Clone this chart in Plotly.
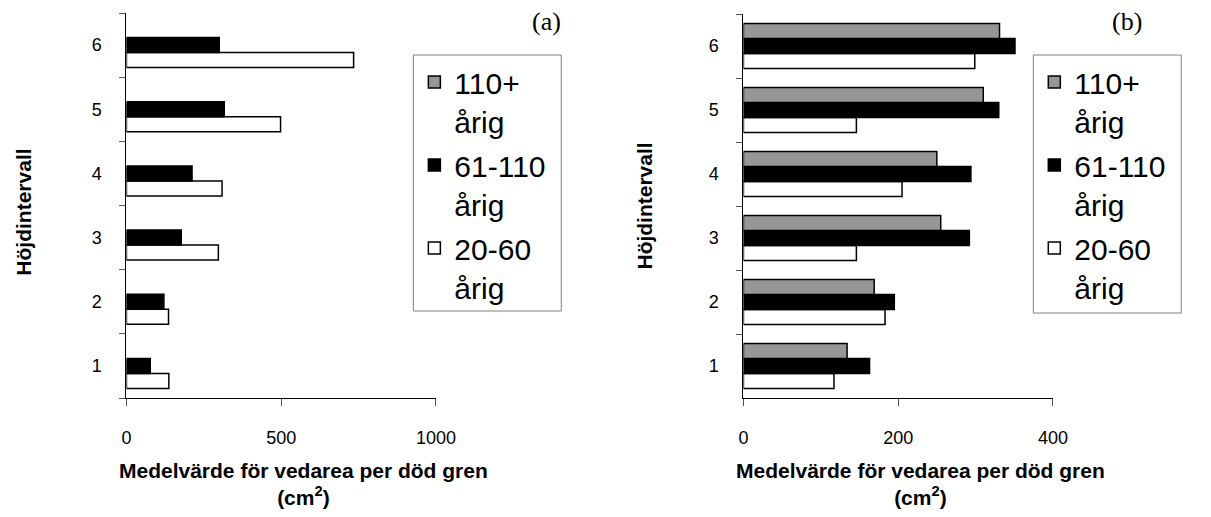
import plotly.graph_objects as go

categories = ["1", "2", "3", "4", "5", "6"]
series_names = ["110+<br>årig", "61-110<br>årig", "20-60<br>årig"]

# Panel (a)
a_110 = [None, None, None, None, None, None]
a_61 = [77, 121, 177, 212, 316, 300]
a_20 = [137, 136, 297, 309, 498, 734]

# Panel (b)
b_110 = [134, 169, 255, 250, 310, 331]
b_61 = [163, 195, 292, 294, 330, 351]
b_20 = [117, 183, 146, 205, 146, 299]

x_ticks_a = [0, 500, 1000]
x_ticks_b = [0, 200, 400]

W, H = 1211, 517
FONT = "Liberation Sans, Arial, sans-serif"
colors = {"110": "#969696", "61": "#000000", "20": "#ffffff"}
ranks = {"110": 1, "61": 2, "20": 3}

fig = go.Figure()

def add_panel(vals20, vals61, vals110, xa, ya, leg):
    for name, vals, key in [(series_names[2], vals20, "20"),
                            (series_names[1], vals61, "61"),
                            (series_names[0], vals110, "110")]:
        fig.add_trace(go.Bar(
            y=categories, x=vals, orientation="h", name=name,
            marker=dict(color=colors[key], line=dict(color="#000000", width=1.5)),
            xaxis=xa, yaxis=ya, legend=leg, legendgroup=leg + key,
            legendrank=ranks[key],
        ))

add_panel(a_20, a_61, a_110, "x", "y", "legend")
add_panel(b_20, b_61, b_110, "x2", "y2", "legend2")

def px_x(p):
    return p / W

def px_y(p):
    return 1 - p / H

axis_common = dict(showgrid=False, zeroline=False, showline=True, linecolor="#000000",
                   linewidth=1, ticks="outside", tickcolor="#555555", tickwidth=1,
                   tickfont=dict(family=FONT, size=18, color="#000000"))

legend_common = dict(xanchor="left", yanchor="top",
                     borderwidth=0, bgcolor="rgba(0,0,0,0)",
                     traceorder="grouped", valign="top",
                     font=dict(family=FONT, size=30, color="#000000"),
                     tracegroupgap=2)

fig.update_layout(
    width=W, height=H,
    margin=dict(l=0, r=0, t=0, b=0),
    paper_bgcolor="white", plot_bgcolor="white",
    barmode="group", bargap=0.3, bargroupgap=0,
    showlegend=True,
    xaxis=dict(domain=[px_x(124), px_x(440)], range=[0, 1000], tickvals=x_ticks_a,
               ticklen=7, ticklabelstandoff=16, anchor="y", **axis_common),
    yaxis=dict(domain=[px_y(398), px_y(13)], type="category", categoryorder="array",
               categoryarray=categories, tickson="boundaries", ticklen=6,
               ticklabelstandoff=20, anchor="x", range=[-0.5, 5.5], **axis_common),
    xaxis2=dict(domain=[px_x(754), px_x(1070)], range=[0, 400], tickvals=x_ticks_b,
                ticklen=7, ticklabelstandoff=16, anchor="y2", **axis_common),
    yaxis2=dict(domain=[px_y(398), px_y(14)], type="category", categoryorder="array",
                categoryarray=categories, tickson="boundaries", ticklen=6,
                ticklabelstandoff=20, anchor="x2", range=[-0.5, 5.5], **axis_common),
    legend=dict(x=px_x(418), y=px_y(56), **legend_common),
    legend2=dict(x=px_x(1051), y=px_y(56), **legend_common),
)

# legend frames
for x0, x1, y0, y1 in ((417, 568, 55, 311), (1050, 1201, 55, 313)):
    fig.add_shape(type="rect", xref="paper", yref="paper",
                  x0=px_x(x0), x1=px_x(x1), y0=px_y(y1), y1=px_y(y0),
                  line=dict(color="#808080", width=1), fillcolor="rgba(0,0,0,0)",
                  layer="below")

title_font = dict(family=FONT, size=21, color="#000000")
xtitle = "<b>Medelvärde för vedarea per död gren<br>(cm<sup>2</sup>)</b>"
for cx in (305, 935):
    fig.add_annotation(x=px_x(cx), y=px_y(457), xref="paper", yref="paper",
                       xanchor="center", yanchor="top", text=xtitle, showarrow=False,
                       font=title_font, align="center")
for cx, cy in ((18, 212), (652, 206)):
    fig.add_annotation(x=px_x(cx), y=px_y(cy), xref="paper", yref="paper",
                       xanchor="center", yanchor="middle", text="<b>Höjdintervall</b>",
                       textangle=-90, showarrow=False, font=title_font)
for cx, lab in ((553, "(a)"), (1146, "(b)")):
    fig.add_annotation(x=px_x(cx), y=px_y(21), xref="paper", yref="paper",
                       xanchor="center", yanchor="middle", text=lab, showarrow=False,
                       font=dict(family="Liberation Serif, Times New Roman, serif",
                                 size=26, color="#000000"))

fig.write_html("out.html")
